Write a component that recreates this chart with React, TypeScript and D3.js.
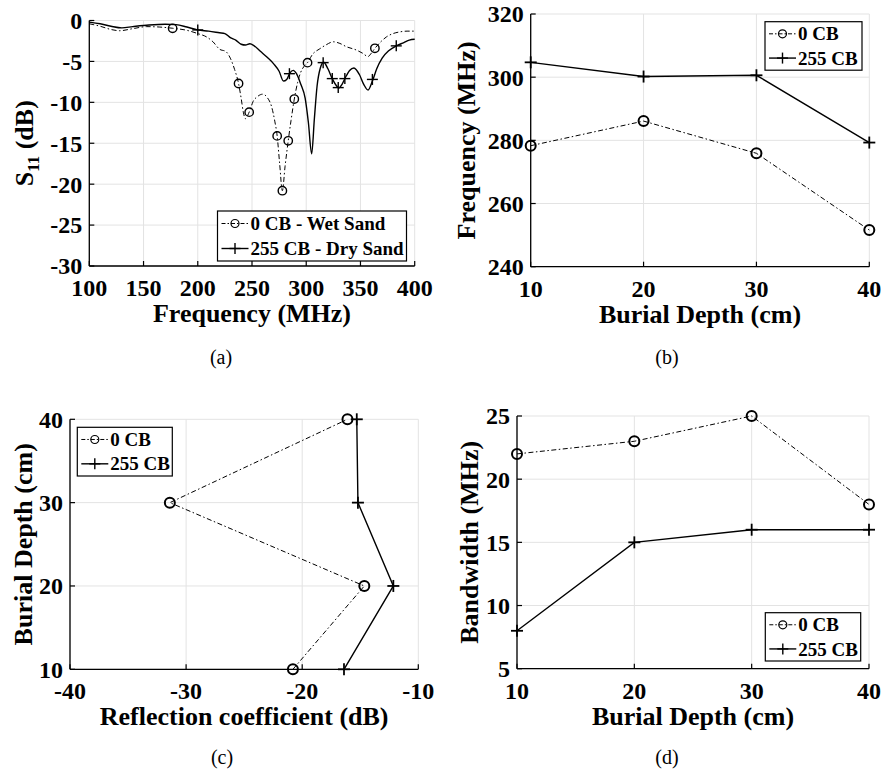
import React from "react";
import * as d3 from "d3";

// ---------- Panel (a): S11 vs frequency ----------
const wetFreq = [100, 110, 120, 128, 140, 153, 165, 177, 190, 200, 208, 214, 220, 226, 230, 234, 237.6, 240, 242, 244, 246, 248, 251, 255, 260, 264, 268, 271, 273.2, 275.5, 278, 280.5, 283.4, 286, 289, 292, 295, 298, 301.2, 306, 312, 318, 325, 331, 337, 346, 352, 357, 360, 363.3, 368, 374, 380, 386, 393, 400];
const wetS11 = [-0.4, -0.7, -1.1, -1.25, -1.0, -0.75, -0.8, -0.95, -1.2, -1.6, -2.0, -2.6, -3.5, -3.8, -4.6, -6.0, -7.7, -9.5, -11.2, -12.0, -11.6, -11.0, -9.9, -9.3, -9.0, -9.4, -10.5, -12.3, -14.1, -17.5, -20.8, -17.8, -14.7, -12.2, -9.6, -7.6, -6.3, -5.6, -5.15, -4.1, -3.5, -3.0, -2.6, -2.8, -3.2, -3.6, -4.0, -4.4, -4.0, -3.4, -2.7, -2.0, -1.6, -1.4, -1.3, -1.3];
const wetMarkFreq = [176.8, 237.6, 247.4, 273.2, 278, 283.4, 289, 301.2, 363.3];
const wetMarkS11 = [-0.96, -7.7, -11.2, -14.1, -20.8, -14.7, -9.6, -5.15, -3.4];

const dryFreq = [100, 110, 120, 130, 140, 155, 170, 180, 190, 200, 210, 220, 225, 230, 235, 240, 244, 248, 252, 258, 264, 270, 275, 279, 282, 285, 288, 291, 295, 299, 302, 305, 307.5, 310, 313, 316, 320, 324, 328, 330, 333, 336, 340, 344, 349, 353, 357, 361, 365, 370, 376, 383, 390, 395, 400];
const dryS11 = [-0.2, -0.4, -0.7, -0.9, -0.75, -0.55, -0.45, -0.5, -0.8, -1.15, -1.3, -1.5, -1.6, -2.1, -2.4, -2.9, -3.0, -2.85, -3.1, -3.8, -4.5, -5.3, -6.2, -7.4, -7.2, -6.4, -6.1, -6.5, -7.8, -9.5, -12.5, -16.3, -12.0, -8.0, -5.8, -5.1, -5.9, -7.1, -8.0, -8.25, -7.8, -7.0, -6.1, -5.8, -6.6, -7.8, -8.5, -7.4, -5.9, -4.6, -3.7, -3.1, -2.7, -2.4, -2.3];
const dryMarkFreq = [200, 284.5, 315.6, 324, 329.5, 335.6, 361, 383];
const dryMarkS11 = [-1.15, -6.5, -5.15, -7.1, -8.2, -7.1, -7.2, -3.1];

const aXTicks = [100, 150, 200, 250, 300, 350, 400];
const aYTicks = [0, -5, -10, -15, -20, -25, -30];

// ---------- Panels (b), (c), (d) ----------
const depths = [10, 20, 30, 40];
const freq0CB = [278.3, 286.1, 275.9, 251.6];
const freq255CB = [304.7, 300.2, 300.6, 279.3];
const refl0CB = [-20.8, -14.65, -31.4, -16.1];
const refl255CB = [-16.4, -12.15, -15.2, -15.3];
const bw0CB = [22, 23, 25, 18];
const bw255CB = [8, 15, 16, 16];

const depthTicks = [10, 20, 30, 40];
const freqTicks = [240, 260, 280, 300, 320];
const reflTicks = [-40, -30, -20, -10];
const bwTicks = [5, 10, 15, 20, 25];

const FONT = "'Liberation Serif', 'Times New Roman', serif";
const DASH = "5,2.5,1.5,2.5";

type Series = {
  xs: number[];
  ys: number[];
  mx?: number[];
  my?: number[];
  marker: "o" | "+";
  dashed: boolean;
  smooth?: boolean;
  label: string;
};

function Marker({ type, x, y, big }: { type: "o" | "+"; x: number; y: number; big: boolean }) {
  if (type === "o") {
    return <circle cx={x} cy={y} r={big ? 5 : 4.2} fill="none" stroke="#000" strokeWidth={big ? 2 : 1.4} />;
  }
  const s = big ? 6 : 5.5;
  return (
    <g stroke="#000" strokeWidth={big ? 1.8 : 1.4}>
      <line x1={x - s} x2={x + s} y1={y} y2={y} />
      <line x1={x} x2={x} y1={y - s} y2={y + s} />
    </g>
  );
}

type PanelProps = {
  left: number; right: number; top: number; bottom: number;
  xDomain: [number, number]; yDomain: [number, number];
  xTicks: number[]; yTicks: number[];
  xLabel: string; yLabel: React.ReactNode;
  yLabelOffset: number;
  series: Series[];
  legend: { x: number; y: number; w: number; h: number; fontSize: number };
  caption: { text: string; x: number; y: number };
  big: boolean;
};

function Panel(p: PanelProps) {
  const x = d3.scaleLinear().domain(p.xDomain).range([p.left, p.right]);
  const y = d3.scaleLinear().domain(p.yDomain).range([p.bottom, p.top]);
  const grid = "#e3e3e3";
  const tickLen = 5;
  const rowH = p.legend.h / 2;
  return (
    <g>
      {p.xTicks.map((t) => (
        <line key={"gx" + t} x1={x(t)} x2={x(t)} y1={p.top} y2={p.bottom} stroke={grid} strokeWidth={1} />
      ))}
      {p.yTicks.map((t) => (
        <line key={"gy" + t} x1={p.left} x2={p.right} y1={y(t)} y2={y(t)} stroke={grid} strokeWidth={1} />
      ))}
      {/* axes */}
      <line x1={p.left} x2={p.right} y1={p.bottom} y2={p.bottom} stroke="#000" strokeWidth={1.3} />
      <line x1={p.left} x2={p.left} y1={p.top} y2={p.bottom} stroke="#000" strokeWidth={1.3} />
      {p.xTicks.map((t) => (
        <g key={"tx" + t}>
          <line x1={x(t)} x2={x(t)} y1={p.bottom} y2={p.bottom - tickLen} stroke="#000" strokeWidth={1.2} />
          <text x={x(t)} y={p.bottom + 30} textAnchor="middle" fontFamily={FONT} fontWeight="bold" fontSize={24}>{t}</text>
        </g>
      ))}
      {p.yTicks.map((t) => (
        <g key={"ty" + t}>
          <line x1={p.left} x2={p.left + tickLen} y1={y(t)} y2={y(t)} stroke="#000" strokeWidth={1.2} />
          <text x={p.left - 7} y={y(t)} dy="0.35em" textAnchor="end" fontFamily={FONT} fontWeight="bold" fontSize={24}>{t}</text>
        </g>
      ))}
      <text x={(p.left + p.right) / 2} y={p.bottom + 56} textAnchor="middle" fontFamily={FONT} fontWeight="bold" fontSize={26}>{p.xLabel}</text>
      <text transform={`translate(${p.left - p.yLabelOffset},${(p.top + p.bottom) / 2}) rotate(-90)`} textAnchor="middle" fontFamily={FONT} fontWeight="bold" fontSize={26}>{p.yLabel}</text>
      {/* series */}
      {p.series.map((s, i) => {
        const pts = s.xs.map((v, k) => [x(v), y(s.ys[k])] as [number, number]);
        const line = d3.line().curve(s.smooth ? d3.curveMonotoneX : d3.curveLinear);
        const mx = s.mx ?? s.xs;
        const my = s.my ?? s.ys;
        return (
          <g key={"s" + i}>
            <path d={line(pts) || ""} fill="none" stroke="#000" strokeWidth={s.dashed ? 1 : 1.4} strokeDasharray={s.dashed ? DASH : undefined} />
            {mx.map((v, k) => (
              <Marker key={k} type={s.marker} x={x(v)} y={y(my[k])} big={p.big} />
            ))}
          </g>
        );
      })}
      {/* legend */}
      <rect x={p.legend.x} y={p.legend.y} width={p.legend.w} height={p.legend.h} fill="#fff" stroke="#000" strokeWidth={1.2} />
      {p.series.map((s, i) => {
        const cy = p.legend.y + rowH * (i + 0.5);
        const lx0 = p.legend.x + 4;
        const lx1 = lx0 + 27;
        return (
          <g key={"l" + i}>
            <line x1={lx0} x2={lx1} y1={cy} y2={cy} stroke="#000" strokeWidth={s.dashed ? 1 : 1.4} strokeDasharray={s.dashed ? "4,2,1.5,2" : undefined} />
            {s.marker === "o" ? (
              <circle cx={(lx0 + lx1) / 2} cy={cy} r={4} fill="none" stroke="#000" strokeWidth={1.2} />
            ) : (
              <g stroke="#000" strokeWidth={1.4}>
                <line x1={(lx0 + lx1) / 2 - 5.5} x2={(lx0 + lx1) / 2 + 5.5} y1={cy} y2={cy} />
                <line x1={(lx0 + lx1) / 2} x2={(lx0 + lx1) / 2} y1={cy - 5.5} y2={cy + 5.5} />
              </g>
            )}
            <text x={lx1 + 2} y={cy} dy="0.35em" fontFamily={FONT} fontWeight="bold" fontSize={p.legend.fontSize}>{s.label}</text>
          </g>
        );
      })}
      <text x={p.caption.x} y={p.caption.y} textAnchor="middle" fontFamily={FONT} fontSize={20}>{p.caption.text}</text>
    </g>
  );
}

export default function App() {
  const s11Label = (
    <>
      S<tspan fontSize={17} dy="6">11</tspan>
      <tspan dy="-6"> (dB)</tspan>
    </>
  );
  return (
    <svg width={886} height={773} viewBox="0 0 886 773" style={{ display: "block", position: "absolute", left: 0, top: 0, background: "#fff" }}>
      <rect width={886} height={773} fill="#fff" />
      <Panel
        left={89.3} right={414.7} top={20.5} bottom={266}
        xDomain={[100, 400]} yDomain={[-30, 0]}
        xTicks={aXTicks} yTicks={aYTicks}
        xLabel="Frequency (MHz)" yLabel={s11Label} yLabelOffset={56}
        series={[
          { xs: wetFreq, ys: wetS11, mx: wetMarkFreq, my: wetMarkS11, marker: "o", dashed: true, smooth: true, label: "0 CB - Wet Sand" },
          { xs: dryFreq, ys: dryS11, mx: dryMarkFreq, my: dryMarkS11, marker: "+", dashed: false, smooth: true, label: "255 CB - Dry Sand" },
        ]}
        legend={{ x: 217.5, y: 211, w: 189, h: 50, fontSize: 19 }}
        caption={{ text: "(a)", x: 221, y: 364 }}
        big={false}
      />
      <Panel
        left={530.7} right={869.3} top={14} bottom={266.7}
        xDomain={[10, 40]} yDomain={[240, 320]}
        xTicks={depthTicks} yTicks={freqTicks}
        xLabel="Burial Depth (cm)" yLabel="Frequency (MHz)" yLabelOffset={56}
        series={[
          { xs: depths, ys: freq0CB, marker: "o", dashed: true, label: "0 CB" },
          { xs: depths, ys: freq255CB, marker: "+", dashed: false, label: "255 CB" },
        ]}
        legend={{ x: 765, y: 21.7, w: 97, h: 48.5, fontSize: 19 }}
        caption={{ text: "(b)", x: 667, y: 364 }}
        big={true}
      />
      <Panel
        left={70} right={418.3} top={419.3} bottom={669.3}
        xDomain={[-40, -10]} yDomain={[10, 40]}
        xTicks={reflTicks} yTicks={depthTicks}
        xLabel="Reflection coefficient (dB)" yLabel="Burial Depth (cm)" yLabelOffset={38}
        series={[
          { xs: refl0CB, ys: depths, marker: "o", dashed: true, label: "0 CB" },
          { xs: refl255CB, ys: depths, marker: "+", dashed: false, label: "255 CB" },
        ]}
        legend={{ x: 77.3, y: 427.3, w: 95, h: 48.7, fontSize: 19 }}
        caption={{ text: "(c)", x: 222, y: 764 }}
        big={true}
      />
      <Panel
        left={517} right={869} top={416} bottom={668.7}
        xDomain={[10, 40]} yDomain={[5, 25]}
        xTicks={depthTicks} yTicks={bwTicks}
        xLabel="Burial Depth (cm)" yLabel="Bandwidth (MHz)" yLabelOffset={39}
        series={[
          { xs: depths, ys: bw0CB, marker: "o", dashed: true, label: "0 CB" },
          { xs: depths, ys: bw255CB, marker: "+", dashed: false, label: "255 CB" },
        ]}
        legend={{ x: 765.3, y: 612.7, w: 95.4, h: 48.3, fontSize: 19 }}
        caption={{ text: "(d)", x: 667, y: 764 }}
        big={true}
      />
    </svg>
  );
}
